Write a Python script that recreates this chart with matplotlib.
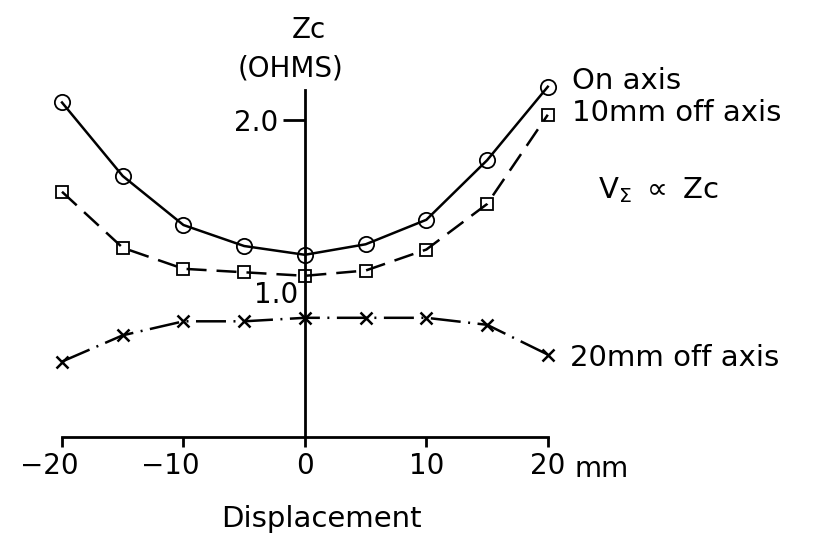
import matplotlib
matplotlib.use('Agg')
import matplotlib.pyplot as plt
from matplotlib.transforms import ScaledTranslation

plt.rcParams['font.family'] = ['DejaVu Sans']
plt.rcParams['mathtext.fontset'] = 'dejavusans'
plt.rcParams['mathtext.default'] = 'regular'

displacement = [-20, -15, -10, -5, 0, 5, 10, 15, 20]
zc_on_axis = [2.10, 1.68, 1.40, 1.28, 1.23, 1.29, 1.43, 1.77, 2.19]
zc_10mm = [1.59, 1.27, 1.15, 1.13, 1.11, 1.14, 1.26, 1.52, 2.03]
zc_20mm = [0.62, 0.77, 0.85, 0.85, 0.87, 0.87, 0.87, 0.83, 0.66]
x_ticks = [-20, -10, 0, 10, 20]
x_tick_labels = ['\u221220', '\u221210', '0', '10', '20']

fig = plt.figure(figsize=(8.29, 5.42), dpi=100)
ax = fig.add_axes([0.0748, 0.1937, 0.586, 0.6818])

lw = 1.8
ax.plot(displacement, zc_on_axis, color='black', lw=lw, ls='-',
        marker='o', ms=11, mfc='none', mew=1.3, clip_on=False)
ax.plot(displacement, zc_10mm, color='black', lw=lw, ls=(0, (8, 4)),
        marker='s', ms=8, mfc='none', mew=1.3, clip_on=False)
ax.plot(displacement, zc_20mm, color='black', lw=lw, ls=(0, (12, 3, 0.8, 3)),
        marker='x', ms=9, mew=1.8, clip_on=False)

ax.set_xlim(-20, 20)
ax.set_ylim(0.189, 2.3)
for side in ['top', 'right']:
    ax.spines[side].set_visible(False)
ax.spines['left'].set_position(('data', 0))
ax.spines['left'].set_bounds(0.189, 2.17)
ax.spines['bottom'].set_bounds(-20, 20)
ax.spines['left'].set_linewidth(2)
ax.spines['bottom'].set_linewidth(2)
ax.patch.set_visible(False)

ax.set_xticks(x_ticks)
ax.set_xticklabels(x_tick_labels)
ax.tick_params(axis='x', direction='out', length=7, width=2, labelsize=20, pad=4)
# keep the digits centred on the tick, minus sign hanging to the left
for lab in ax.get_xticklabels():
    if lab.get_text().startswith('\u2212'):
        lab.set_transform(lab.get_transform() + ScaledTranslation(-0.13, 0, fig.dpi_scale_trans))
ax.set_yticks([2.0])
ax.set_yticklabels(['2.0'])
ax.tick_params(axis='y', direction='out', length=16, width=2, labelsize=20, pad=3)
ax.text(-0.58, 1.0, '1.0', ha='right', va='center', fontsize=20)

ax.text(0.3, 2.514, 'Zc', ha='center', va='center', fontsize=20)
ax.text(-1.2, 2.297, '(OHMS)', ha='center', va='center', fontsize=20)
ax.text(22.2, -0.04, 'mm', ha='left', va='baseline', fontsize=20)
ax.text(1.4, -0.28, 'Displacement', ha='center', va='center', fontsize=21)

ax.text(22.0, 2.223, 'On axis', ha='left', va='center', fontsize=21)
ax.text(22.0, 2.04, '10mm off axis', ha='left', va='center', fontsize=21)
ax.text(24.1, 1.554, r'V$_{\Sigma}$ $\propto$ Zc', ha='left', va='baseline', fontsize=21)
ax.text(21.8, 0.64, '20mm off axis', ha='left', va='center', fontsize=21)

fig.savefig('out.png', dpi=100)
